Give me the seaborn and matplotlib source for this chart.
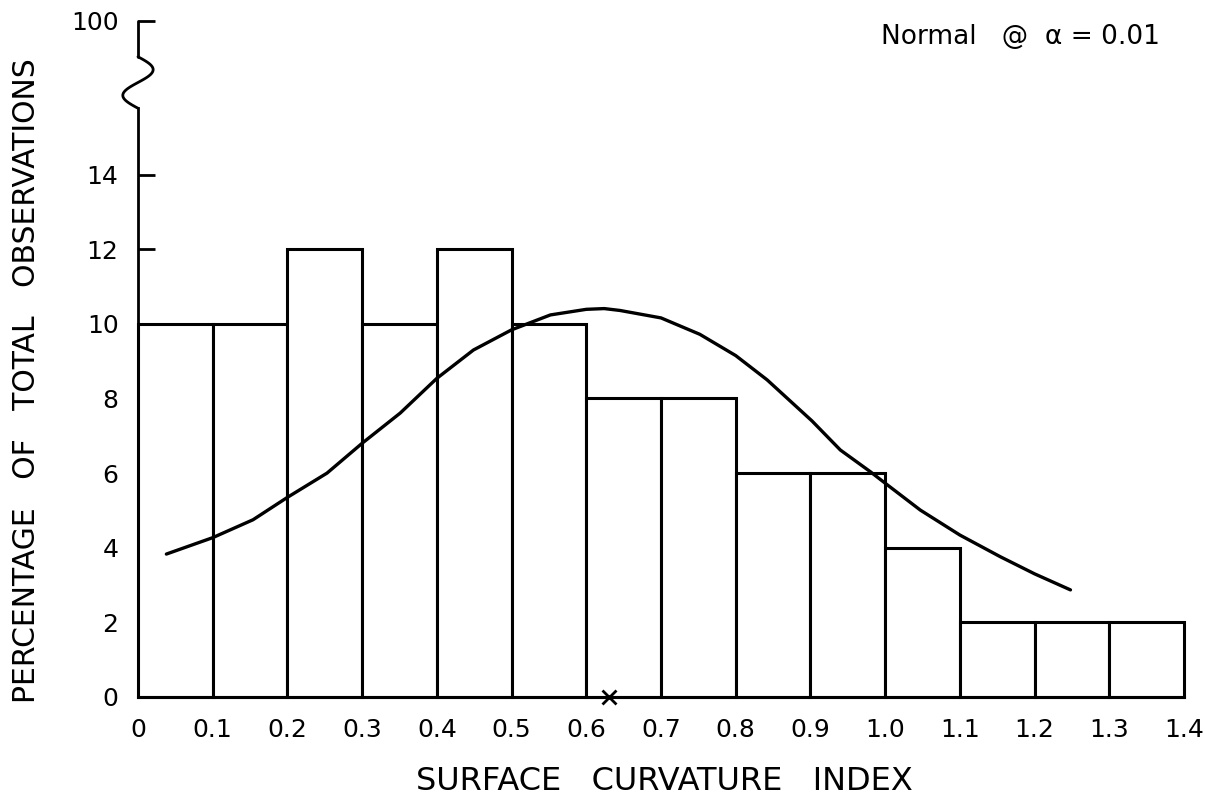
import matplotlib
matplotlib.use("Agg")
import matplotlib.pyplot as plt
import numpy as np
import pandas as pd
import seaborn as sns

# class intervals (lower bound) and percentage of observations per class
bin_lo = [0.0, 0.1, 0.2, 0.3, 0.4, 0.5, 0.6, 0.7, 0.8, 0.9, 1.0, 1.1, 1.2, 1.3]
bin_width = 0.1
pct = [10, 10, 12, 10, 12, 10, 8, 8, 6, 6, 4, 2, 2, 2]

# fitted normal curve
curve_x = [0.038, 0.1, 0.154, 0.2, 0.253, 0.3, 0.351, 0.4, 0.449, 0.5, 0.552,
           0.6, 0.624, 0.645, 0.7, 0.752, 0.8, 0.842, 0.902, 0.94, 0.98, 1.0,
           1.047, 1.1, 1.154, 1.2, 1.248]
curve_y = [3.83, 4.27, 4.75, 5.35, 6.0, 6.8, 7.61, 8.54, 9.3, 9.84, 10.24,
           10.39, 10.41, 10.36, 10.16, 9.72, 9.15, 8.5, 7.4, 6.62, 6.04, 5.73,
           5.01, 4.34, 3.76, 3.3, 2.87]

mean_x = 0.63

ytick_vals = [0, 2, 4, 6, 8, 10, 12, 14]
ytick_labels = ["0", "2", "4", "6", "8", "10", "12", "14"]
xtick_labels = ["0", "0.1", "0.2", "0.3", "0.4", "0.5", "0.6", "0.7", "0.8",
                "0.9", "1.0", "1.1", "1.2", "1.3", "1.4"]

# axis break: the "100" tick sits above the break
y_top = 18.12
y_break_lo = 15.78
y_break_hi = 17.16

sns.set_theme(style="white")
plt.rcParams['font.family'] = ['DejaVu Sans']
plt.rcParams['text.color'] = 'black'
plt.rcParams['xtick.color'] = 'black'
plt.rcParams['ytick.color'] = 'black'

fig = plt.figure(figsize=(12.05, 7.99), dpi=100)
ax = fig.add_axes([0.1145, 0.1277, 0.8681, 0.8461])

df = pd.DataFrame({"x": np.array(bin_lo) + bin_width / 2, "pct": pct})
edges = list(bin_lo) + [bin_lo[-1] + bin_width]
sns.histplot(data=df, x="x", weights="pct", bins=edges, color="white",
             edgecolor="black", linewidth=2.2, alpha=1, ax=ax)
for p in ax.patches:
    p.set_clip_on(False)

sns.lineplot(x=curve_x, y=curve_y, color="black", linewidth=2.4, ax=ax)
ax.plot([mean_x], [0], marker="x", color="black", markersize=10,
        markeredgewidth=2, clip_on=False, zorder=5)

ax.set_xlim(0, 1.4)
ax.set_ylim(0, y_top)
ax.set_xlabel("")
ax.set_ylabel("")

ax.set_xticks(edges)
ax.set_xticklabels(xtick_labels)
ax.set_yticks(ytick_vals + [y_top])
ax.set_yticklabels(ytick_labels + ["100"])
ax.tick_params(axis="x", length=0, pad=15, labelsize=18)
ax.tick_params(axis="y", direction="in", length=12, width=2, pad=14,
               labelsize=18, left=True)

for s in ["top", "right"]:
    ax.spines[s].set_visible(False)
ax.spines["left"].set_linewidth(2)
ax.spines["left"].set_color("black")
ax.spines["bottom"].set_linewidth(2.2)
ax.spines["bottom"].set_color("black")
ax.spines["left"].set_bounds(0, y_break_lo)

# wavy break on the y axis
t = np.linspace(0, 1, 60)
wx = -0.0145 * np.sin(2 * np.pi * t)
wy = y_break_lo + (y_break_hi - y_break_lo) * t
tr = ax.get_yaxis_transform()
ax.plot(wx, wy, color="black", lw=2, transform=tr, clip_on=False)
ax.plot([0, 0], [y_break_hi, y_top], color="black", lw=2, transform=tr,
        clip_on=False)

fig.text(0.0216, 0.524, "PERCENTAGE   OF   TOTAL   OBSERVATIONS",
         rotation=90, ha="center", va="center", fontsize=21.5)
fig.text(0.551, 0.0225, "SURFACE   CURVATURE   INDEX", ha="center",
         va="center", fontsize=23)
fig.text(0.8465, 0.954, "Normal   @  α = 0.01", ha="center", va="center",
         fontsize=19)

fig.savefig("out.png", dpi=100)
